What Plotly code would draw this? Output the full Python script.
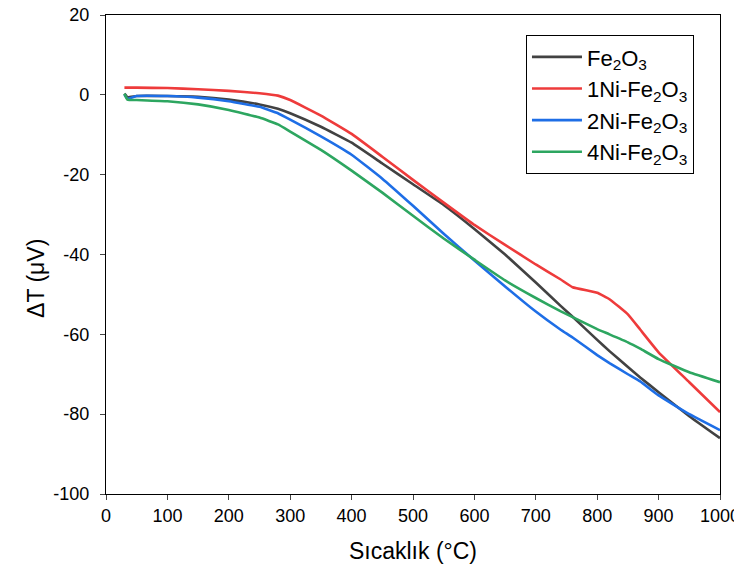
import plotly.graph_objects as go

temp = [30, 35, 50, 100, 150, 200, 250, 280, 300, 350, 400, 450, 500, 550, 600, 650, 700, 740, 760, 800, 820, 850, 870, 900, 950, 1000]

fe2o3 = [0.3, -0.6, -0.3, -0.3, -0.5, -1.2, -2.4, -3.5, -4.6, -8.0, -12.0, -17.2, -22.4, -27.6, -33.6, -40.0, -47.0, -52.8, -55.6, -61.4, -64.2, -68.2, -70.8, -74.5, -80.5, -86.0]
ni1 = [1.8, 1.8, 1.8, 1.7, 1.4, 1.0, 0.4, -0.2, -1.3, -5.2, -9.8, -15.5, -21.3, -27.0, -32.6, -37.6, -42.5, -46.2, -48.2, -49.6, -51.2, -55.0, -58.8, -64.5, -72.0, -79.5]
ni2 = [0.0, -1.0, -0.3, -0.3, -0.7, -1.6, -3.0, -4.6, -6.2, -10.4, -15.0, -21.0, -27.8, -34.8, -41.5, -48.0, -54.3, -58.8, -60.8, -65.2, -67.2, -70.0, -71.8, -75.3, -80.0, -84.0]
ni4 = [0.3, -1.2, -1.3, -1.6, -2.4, -3.8, -5.7, -7.4, -9.2, -13.8, -19.0, -24.5, -30.3, -36.0, -41.3, -46.5, -50.9, -54.2, -55.7, -58.7, -60.0, -62.0, -63.6, -66.2, -69.5, -72.0]

names = ["Fe<sub>2</sub>O<sub>3</sub>", "1Ni-Fe<sub>2</sub>O<sub>3</sub>", "2Ni-Fe<sub>2</sub>O<sub>3</sub>", "4Ni-Fe<sub>2</sub>O<sub>3</sub>"]
colors = ["#424242", "#EE3B3B", "#1E6EE6", "#2DA660"]
series = [fe2o3, ni1, ni2, ni4]

x_ticks = list(range(0, 1001, 100))
y_ticks = list(range(-100, 21, 20))
y_labels = [str(v) for v in y_ticks]

fig = go.Figure()
for i, (nm, c, s) in enumerate(zip(names, colors, series)):
    fig.add_trace(go.Scatter(x=temp, y=s, name=nm, mode="lines", legendgroup=str(i),
                             line=dict(color=c, width=2.6, shape="spline", smoothing=0.3)))

font = "Liberation Sans, Arial, sans-serif"
fig.update_layout(
    width=734, height=559,
    margin=dict(l=98, r=22, t=7, b=73),
    paper_bgcolor="white", plot_bgcolor="white",
    font=dict(family=font, size=18, color="black"),
    showlegend=True,
    legend=dict(x=0.684, y=0.958, xanchor="left", yanchor="top",
                bordercolor="black", borderwidth=1, bgcolor="white",
                font=dict(size=22, family=font), tracegroupgap=0, itemwidth=50),
    xaxis=dict(range=[0, 1000], tickvals=x_ticks, ticks="outside", ticklen=5, tickwidth=1.3,
               showline=True, linecolor="black", linewidth=1.4, mirror=True,
               showgrid=False, zeroline=False, automargin=False,
               ticklabeloverflow="allow", tickfont=dict(size=18),
               title=dict(text="Sıcaklık (°C)", font=dict(size=23), standoff=18)),
    yaxis=dict(range=[-100, 20], tickvals=y_ticks, ticktext=y_labels, ticks="outside", ticklen=5, tickwidth=1.3,
               showline=True, linecolor="black", linewidth=1.4, mirror=True,
               showgrid=False, zeroline=False, automargin=False,
               ticklabeloverflow="allow", ticklabelstandoff=7, tickfont=dict(size=18)),
    annotations=[dict(text="ΔT (μV)", xref="paper", yref="paper", x=-0.114, y=0.449,
                      textangle=-90, showarrow=False, xanchor="center", yanchor="middle",
                      font=dict(size=23, family=font))],
)
fig.write_html("out.html")
